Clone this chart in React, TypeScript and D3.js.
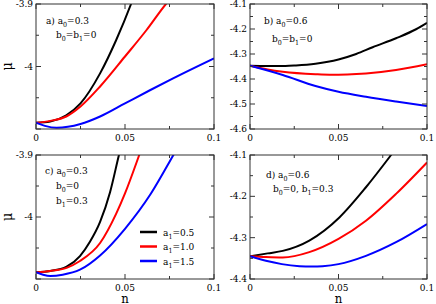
import React from "react";
import * as d3 from "d3";

// ---------- data ----------
const xTicks = [0, 0.05, 0.1];
const xTickLabels = ["0", "0.05", "0.1"];
const xMinor = [0.025, 0.075];

const seriesNames = ["a_1=0.5", "a_1=1.0", "a_1=1.5"];
const seriesColors = ["#000000", "#ff0000", "#0000ff"];

// panel a) a0=0.3, b0=b1=0
const aBlack: [number, number][] = [[0, -4.09], [0.008, -4.088], [0.017, -4.078], [0.025, -4.059], [0.036, -4.011], [0.045, -3.958], [0.0534, -3.9], [0.056, -3.88]];
const aRed: [number, number][] = [[0, -4.09], [0.008, -4.087], [0.017, -4.08], [0.025, -4.064], [0.036, -4.032], [0.05, -3.984], [0.062, -3.942], [0.073, -3.9], [0.076, -3.89]];
const aBlue: [number, number][] = [[0, -4.09], [0.005, -4.095], [0.0116, -4.098], [0.025, -4.092], [0.036, -4.08], [0.05, -4.059], [0.064, -4.038], [0.077, -4.019], [0.1, -3.987]];

// panel b) a0=0.6, b0=b1=0
const bBlack: [number, number][] = [[0, -4.347], [0.01, -4.348], [0.02, -4.348], [0.026, -4.346], [0.037, -4.339], [0.05, -4.322], [0.06, -4.3], [0.0693, -4.273], [0.0825, -4.237], [0.0938, -4.201], [0.1, -4.175]];
const bRed: [number, number][] = [[0, -4.347], [0.01, -4.362], [0.0185, -4.371], [0.037, -4.381], [0.045, -4.383], [0.055, -4.382], [0.0655, -4.378], [0.0825, -4.364], [0.1, -4.341]];
const bBlue: [number, number][] = [[0, -4.347], [0.0185, -4.384], [0.037, -4.428], [0.05, -4.451], [0.0655, -4.471], [0.0825, -4.49], [0.1, -4.508]];

// panel c) a0=0.3, b0=0, b1=0.3
const cBlack: [number, number][] = [[0, -4.089], [0.008, -4.087], [0.0172, -4.08], [0.0247, -4.063], [0.0303, -4.04], [0.036, -4.008], [0.0416, -3.96], [0.0466, -3.9], [0.048, -3.884]];
const cRed: [number, number][] = [[0, -4.089], [0.008, -4.087], [0.0172, -4.082], [0.0247, -4.071], [0.036, -4.042], [0.045, -3.995], [0.05, -3.962], [0.058, -3.9], [0.06, -3.884]];
const cBlue: [number, number][] = [[0, -4.089], [0.004, -4.093], [0.008, -4.095], [0.015, -4.093], [0.0247, -4.085], [0.036, -4.062], [0.05, -4.019], [0.0644, -3.963], [0.0772, -3.9], [0.08, -3.886]];

// panel d) a0=0.6, b0=0, b1=0.3
const dBlack: [number, number][] = [[0, -4.345], [0.01, -4.338], [0.0185, -4.332], [0.0335, -4.307], [0.0505, -4.251], [0.0655, -4.178], [0.0797, -4.1], [0.082, -4.087]];
const dRed: [number, number][] = [[0, -4.345], [0.009, -4.347], [0.0185, -4.348], [0.0335, -4.335], [0.05, -4.303], [0.0655, -4.259], [0.0825, -4.194], [0.1, -4.118]];
const dBlue: [number, number][] = [[0, -4.345], [0.009, -4.356], [0.018, -4.364], [0.028, -4.369], [0.035, -4.37], [0.041, -4.369], [0.05, -4.364], [0.0655, -4.344], [0.0825, -4.311], [0.1, -4.267]];

const yTicksA = [-3.9, -4.0, -4.1];
const yLabelsA = ["-3.9", "-4", ""];
const yMinorA = [-3.95, -4.05];
const yTicksB = [-4.1, -4.2, -4.3, -4.4, -4.5, -4.6];
const yLabelsB = ["-4.1", "-4.2", "-4.3", "-4.4", "-4.5", "-4.6"];
const yMinorB = [-4.15, -4.25, -4.35, -4.45, -4.55];
const yTicksD = [-4.1, -4.2, -4.3, -4.4];
const yLabelsD = ["-4.1", "-4.2", "-4.3", "-4.4"];
const yMinorD = [-4.15, -4.25, -4.35];

// annotation lines, "_x" means subscript x
const annA = ["a) a_0=0.3", "b_0=b_1=0"];
const annB = ["b) a_0=0.6", "b_0=b_1=0"];
const annC = ["c) a_0=0.3", "b_0=0", "b_1=0.3"];
const annD = ["d) a_0=0.6", "b_0=0, b_1=0.3"];

// ---------- layout ----------
const FONT = "\"DejaVu Serif Condensed\", \"DejaVu Serif\", serif";

interface Panel {
  id: string;
  x: number; y: number; w: number; h: number;
  yDomain: [number, number];
  yTicks: number[]; yLabels: string[]; yMinor: number[];
  series: [number, number][][];
  ann: string[]; annPos: [number, number][];
  showMu: boolean; showN: boolean; legend: boolean;
}

const panels: Panel[] = [
  { id: "a", x: 36, y: 4, w: 178, h: 125, yDomain: [-4.1, -3.9], yTicks: yTicksA, yLabels: yLabelsA, yMinor: yMinorA,
    series: [aBlack, aRed, aBlue], ann: annA, annPos: [[46, 24], [56, 38]], showMu: true, showN: false, legend: false },
  { id: "b", x: 250, y: 4, w: 177, h: 125, yDomain: [-4.6, -4.1], yTicks: yTicksB, yLabels: yLabelsB, yMinor: yMinorB,
    series: [bBlack, bRed, bBlue], ann: annB, annPos: [[264, 24], [272, 42]], showMu: false, showN: false, legend: false },
  { id: "c", x: 36, y: 155, w: 178, h: 124, yDomain: [-4.1, -3.9], yTicks: yTicksA, yLabels: yLabelsA, yMinor: yMinorA,
    series: [cBlack, cRed, cBlue], ann: annC, annPos: [[45, 174], [56, 189], [56, 204]], showMu: true, showN: true, legend: true },
  { id: "d", x: 250, y: 155, w: 177, h: 124, yDomain: [-4.4, -4.1], yTicks: yTicksD, yLabels: yLabelsD, yMinor: yMinorD,
    series: [dBlack, dRed, dBlue], ann: annD, annPos: [[266, 178], [273, 192]], showMu: false, showN: true, legend: false },
];

const textStyle: React.CSSProperties = { fontFamily: FONT, fontStretch: "condensed" };

function SubText({ s, x, y, size }: { s: string; x: number; y: number; size: number }) {
  const parts: React.ReactNode[] = [];
  let buf = "";
  let k = 0;
  let pendingDy = 0;
  const flush = () => {
    if (buf) {
      parts.push(<tspan key={k++} dy={pendingDy || undefined}>{buf}</tspan>);
      pendingDy = 0;
    }
    buf = "";
  };
  for (let i = 0; i < s.length; i++) {
    if (s[i] === "_" && i + 1 < s.length) {
      flush();
      parts.push(<tspan key={k++} fontSize={size * 0.7} dy={3 + pendingDy}>{s[i + 1]}</tspan>);
      pendingDy = -3;
      i++;
    } else buf += s[i];
  }
  flush();
  return <text x={x} y={y} fontSize={size} style={textStyle} fill="#000">{parts}</text>;
}

function PanelView({ p }: { p: Panel }) {
  const xs = d3.scaleLinear().domain([0, 0.1]).range([p.x, p.x + p.w]);
  const ys = d3.scaleLinear().domain(p.yDomain).range([p.y + p.h, p.y]);
  const line = d3.line<[number, number]>().x(d => xs(d[0])).y(d => ys(d[1])).curve(d3.curveMonotoneX);
  const major = 5, minor = 3;
  const frame = "#333";
  const bottom = p.y + p.h, right = p.x + p.w;
  return (
    <g>
      <defs>
        <clipPath id={"clip-" + p.id}>
          <rect x={p.x} y={p.y} width={p.w} height={p.h} />
        </clipPath>
      </defs>
      <g clipPath={`url(#clip-${p.id})`}>
        {p.series.map((s, i) => (
          <path key={i} d={line(s) || ""} fill="none" stroke={seriesColors[i]} strokeWidth={2} />
        ))}
      </g>
      <rect x={p.x} y={p.y} width={p.w} height={p.h} fill="none" stroke={frame} strokeWidth={1} />
      {xTicks.map((t, i) => (
        <g key={"xt" + i}>
          <line x1={xs(t)} x2={xs(t)} y1={bottom} y2={bottom - major} stroke={frame} />
          <line x1={xs(t)} x2={xs(t)} y1={p.y} y2={p.y + major} stroke={frame} />
          <text x={xs(t)} y={bottom + 11.5} fontSize={10} style={textStyle} textAnchor="middle">{xTickLabels[i]}</text>
        </g>
      ))}
      {xMinor.map((t, i) => (
        <g key={"xm" + i}>
          <line x1={xs(t)} x2={xs(t)} y1={bottom} y2={bottom - minor} stroke={frame} />
          <line x1={xs(t)} x2={xs(t)} y1={p.y} y2={p.y + minor} stroke={frame} />
        </g>
      ))}
      {p.yTicks.map((t, i) => (
        <g key={"yt" + i}>
          <line x1={p.x} x2={p.x + major} y1={ys(t)} y2={ys(t)} stroke={frame} />
          <line x1={right} x2={right - major} y1={ys(t)} y2={ys(t)} stroke={frame} />
          {p.yLabels[i] && (
            <text x={p.x - 3} y={ys(t) + 3} fontSize={10} style={textStyle} textAnchor="end">{p.yLabels[i]}</text>
          )}
        </g>
      ))}
      {p.yMinor.map((t, i) => (
        <g key={"ym" + i}>
          <line x1={p.x} x2={p.x + minor} y1={ys(t)} y2={ys(t)} stroke={frame} />
          <line x1={right} x2={right - minor} y1={ys(t)} y2={ys(t)} stroke={frame} />
        </g>
      ))}
      {p.ann.map((a, i) => (
        <SubText key={"an" + i} s={a} x={p.annPos[i][0]} y={p.annPos[i][1]} size={10} />
      ))}
      {p.showMu && (
        <text transform={`translate(12,${p.y + p.h / 2}) rotate(-90)`} fontSize={14} style={textStyle} textAnchor="middle">μ</text>
      )}
      {p.showN && (
        <text x={p.x + p.w / 2} y={302.5} fontSize={13} style={textStyle} textAnchor="middle">n</text>
      )}
      {p.legend && seriesNames.map((nm, i) => {
        const ly = 232 + i * 14.5;
        return (
          <g key={"lg" + i}>
            <line x1={140} x2={157} y1={ly} y2={ly} stroke={seriesColors[i]} strokeWidth={2.5} />
            <SubText s={nm} x={163} y={ly + 3.5} size={10} />
          </g>
        );
      })}
    </g>
  );
}

export default function App() {
  return (
    <svg width={436} height={304} style={{ position: "absolute", left: 0, top: 0, background: "#fff" }}>
      {panels.map(p => <PanelView key={p.id} p={p} />)}
    </svg>
  );
}
